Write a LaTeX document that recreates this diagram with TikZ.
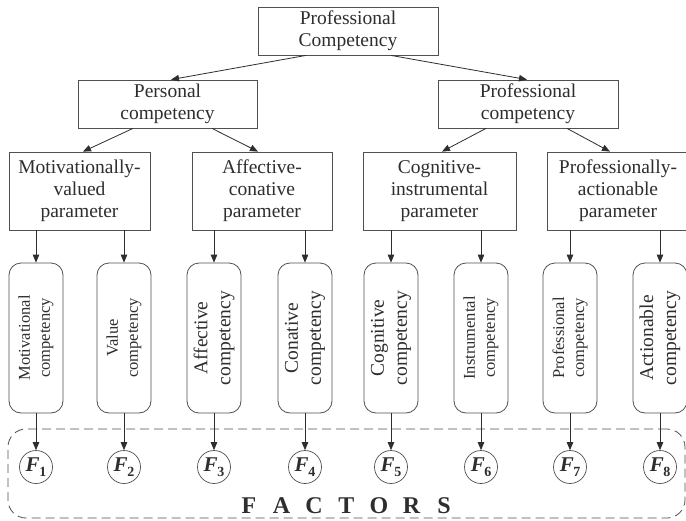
\documentclass[tikz,border=0pt]{standalone}
\usepackage{fontspec}
\setmainfont{Liberation Serif}
\usetikzlibrary{arrows.meta}
\definecolor{ink}{HTML}{2E2E2E}
\definecolor{edge}{HTML}{505050}
\newcommand\flab[1]{{\fontsize{21}{21}\selectfont\bfseries\itshape F}\kern-0.5pt\raisebox{-5pt}{\fontsize{14}{14}\selectfont\bfseries #1}}
\newcommand\lspc[1]{\makebox[32.5pt][c]{#1}}
\begin{document}
\begin{tikzpicture}[x=1pt,y=-1pt,
  box/.style={draw=edge, line width=0.8pt, inner sep=0pt, align=center, text=ink, font=\fontsize{19.5}{22}\selectfont},
  comp/.style={draw=edge, line width=0.8pt, rounded corners=12pt, minimum width=54pt, minimum height=150pt, inner sep=0pt},
  smalltxt/.style={rotate=90, align=center, text=ink, font=\fontsize{16.5}{20}\selectfont, inner sep=0pt},
  bigtxt/.style={rotate=90, align=center, text=ink, font=\fontsize{19.5}{23}\selectfont, inner sep=0pt},
  fac/.style={draw=edge, line width=0.7pt, circle, minimum size=33pt, inner sep=0pt, text=ink},
  arr/.style={draw=ink, line width=0.8pt, -{Triangle[length=8pt,width=6.5pt]}},
  frame/.style={draw=edge, line width=0.8pt, dash pattern=on 9pt off 5pt, rounded corners=18pt, inner sep=0pt},
]
\path[use as bounding box, fill=white] (0,0) rectangle (686,520);
\clip (0,0) rectangle (686,520);

% dashed frame
\node[frame, minimum width=677pt, minimum height=89pt] (frame) at (346.5,473.5) {};

% top levels
\node[box, minimum width=180pt, minimum height=48pt] (top) at (348,31) {Professional\\Competency};
\node[box, minimum width=179pt, minimum height=48pt] (pers) at (167.5,104) {Personal\\competency};
\node[box, minimum width=180pt, minimum height=48pt] (prof) at (528,104) {Professional\\competency};

% parameters
\node[box, minimum width=141pt, minimum height=78pt] (par1) at (79.5,191) {Motivationally-\\valued\\parameter};
\node[box, minimum width=140pt, minimum height=78pt] (par2) at (262,191) {Affective-\\conative\\parameter};
\node[box, minimum width=153pt, minimum height=78pt] (par3) at (439.5,191) {Cognitive-\\instrumental\\parameter};
\node[box, minimum width=142pt, minimum height=78pt] (par4) at (618,191) {Professionally-\\actionable\\parameter};

% competency boxes
\node[comp] (c1) at (36,338) {};
\node[comp] (c2) at (124,338) {};
\node[comp] (c3) at (214,338) {};
\node[comp] (c4) at (305,338) {};
\node[comp] (c5) at (391,338) {};
\node[comp] (c6) at (481,338) {};
\node[comp] (c7) at (570,338) {};
\node[comp] (c8) at (660,338) {};

\node[smalltxt] (t1) at (c1.center) {Motivational\\competency};
\node[smalltxt] (t2) at (c2.center) {Value\\competency};
\node[bigtxt]   (t3) at (c3.center) {Affective\\competency};
\node[bigtxt]   (t4) at (c4.center) {Conative\\competency};
\node[bigtxt]   (t5) at (c5.center) {Cognitive\\competency};
\node[smalltxt] (t6) at (c6.center) {Instrumental\\competency};
\node[smalltxt] (t7) at (c7.center) {Professional\\competency};
\node[bigtxt]   (t8) at (c8.center) {Actionable\\competency};

% factor circles
\node[fac] (f1) at (36,467) {\flab{1}};
\node[fac] (f2) at (124,467) {\flab{2}};
\node[fac] (f3) at (214,467) {\flab{3}};
\node[fac] (f4) at (305,467) {\flab{4}};
\node[fac] (f5) at (391,467) {\flab{5}};
\node[fac] (f6) at (481,467) {\flab{6}};
\node[fac] (f7) at (570,467) {\flab{7}};
\node[fac] (f8) at (660,467) {\flab{8}};

\node[anchor=base, inner sep=0pt, text=ink, font=\fontsize{24}{24}\selectfont\bfseries] (factors) at (346.5,513)
  {\lspc{F}\lspc{A}\lspc{C}\lspc{T}\lspc{O}\lspc{R}\lspc{S}};

% connectors
\draw[arr] ([xshift=-42pt]top.south) -- ([xshift=3.5pt]pers.north);
\draw[arr] ([xshift=43pt]top.south) -- ([xshift=-1pt]prof.north);
\draw[arr] ([xshift=-34.5pt]pers.south) -- ([xshift=3.5pt]par1.north);
\draw[arr] ([xshift=44.5pt]pers.south) -- ([xshift=-4pt]par2.north);
\draw[arr] ([xshift=-42pt]prof.south) -- ([xshift=2.5pt]par3.north);
\draw[arr] ([xshift=39pt]prof.south) -- ([xshift=-8pt]par4.north);

\draw[arr] (c1.north |- par1.south) -- (c1.north);
\draw[arr] (c2.north |- par1.south) -- (c2.north);
\draw[arr] (c3.north |- par2.south) -- (c3.north);
\draw[arr] (c4.north |- par2.south) -- (c4.north);
\draw[arr] (c5.north |- par3.south) -- (c5.north);
\draw[arr] (c6.north |- par3.south) -- (c6.north);
\draw[arr] (c7.north |- par4.south) -- (c7.north);
\draw[arr] (c8.north |- par4.south) -- (c8.north);

\foreach \i in {1,...,8} {
  \draw[arr] (c\i.south) -- (f\i.north);
}
\end{tikzpicture}
\end{document}
